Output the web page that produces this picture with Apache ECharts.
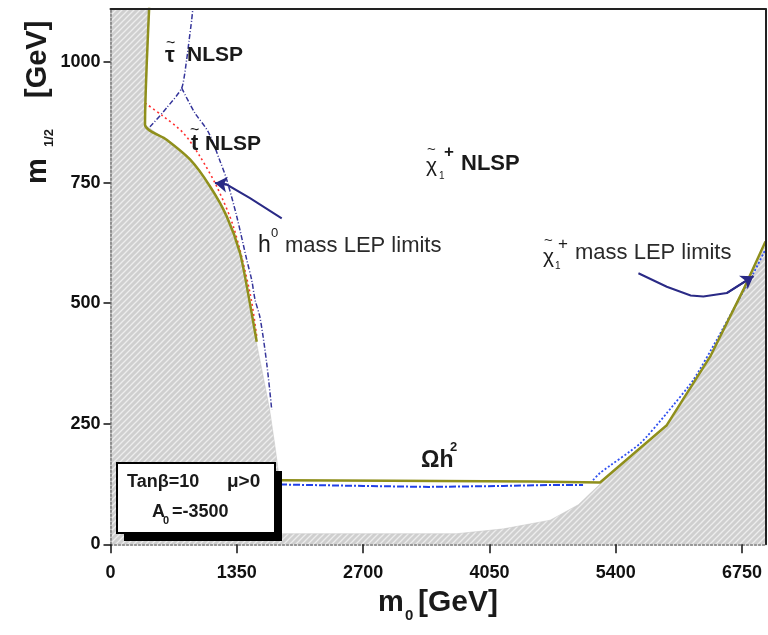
<!DOCTYPE html>
<html>
<head>
<meta charset="utf-8">
<script src="https://cdn.jsdelivr.net/npm/echarts@6/dist/echarts.min.js"></script>
<style>
html,body{margin:0;padding:0;background:#fff;}
#chart{width:768px;height:635px;}
</style>
</head>
<body>
<div id="chart"></div>
<script>
// ---- data (m0 [GeV], m1/2 [GeV]) ----
var xTicks = [0, 1350, 2700, 4050, 5400, 6750];
var yTicks = [0, 250, 500, 750, 1000];

var excludedRegion = [[0,0],[0,1120],[415,1120],[369,870],[600,837],[850,795],[1064,738],[1242,676],[1384,600],[1470,517],[1563,415],[1620,360],[1700,280],[1760,200],[1795,150],[1815,22],[3700,22],[4200,32],[4699,50],[5000,82],[5232,125],[5600,185],[5945,242],[6408,385],[6764,524],[7000,620],[7000,0]];

var omegaLeft = [[415,1120],[369,870],[600,839],[850,798],[1064,742],[1242,680],[1384,604],[1470,521],[1563,420]];
var omegaRight = [[1812,133],[3000,132],[4500,130],[5232,128],[5945,247],[6408,389],[6764,528],[7000,628]];

var higgsLimit = [[369,915],[547,890],[778,853],[957,804],[1135,742],[1313,659],[1491,521],[1563,431]];

var nlspTop = [[885,1120],[868,1088],[840,1045],[814,1005],[761,946],[600,905],[422,866],[369,862]];
var nlspRight = [[761,946],[900,895],[1045,855],[1170,795],[1242,756],[1349,680],[1456,590],[1509,548],[1545,507],[1598,470],[1669,376],[1723,279]];

var charginoFlat = [[1812,124],[2700,121],[3400,119],[4200,121],[4700,123],[5050,123]];
var charginoRise = [[5157,133],[5232,148],[5660,209],[5945,272],[6229,341],[6479,424],[6693,500],[6871,562],[7014,617]];

var arrowHiggs = [[1830,676],[1491,718],[1242,746],[1117,749]];
var arrowChargino = [[5642,562],[5945,534],[6200,516],[6336,514],[6586,521],[6871,556]];

// ---- hatch pattern ----
function makeHatch(){
  var s = 6, c = document.createElement('canvas');
  c.width = s; c.height = s;
  var g = c.getContext('2d');
  g.fillStyle = '#cfcfcf'; g.fillRect(0,0,s,s);
  g.strokeStyle = '#ededed'; g.lineWidth = 1.3;
  g.beginPath();
  g.moveTo(0,s); g.lineTo(s,0);
  g.moveTo(-s/2,s/2); g.lineTo(s/2,-s/2);
  g.moveTo(s/2,s+s/2); g.lineTo(s+s/2,s/2);
  g.stroke();
  return c;
}
var hatch = {image: makeHatch(), repeat: 'repeat'};

var FONT = 'Liberation Sans, Arial, sans-serif';
var chart = echarts.init(document.getElementById('chart'), null, {renderer:'canvas'});

function txt(x, y, s, size, bold, extra){
  var o = {type:'text', x:x, y:y, z:100, style:{text:s, fontSize:size, fontWeight: bold ? 'bold':'normal', fontFamily:FONT, fill:'#1a1a1a', textAlign:'left', textVerticalAlign:'middle'}};
  if (extra) for (var k in extra) o.style[k] = extra[k];
  return o;
}

var graphics = [
  // tau NLSP
  txt(165,56,'τ',22,true), txt(166,44,'~',16,false),
  txt(187,55,'NLSP',21,true),
  // stop NLSP
  txt(191,144,'t',22,true), txt(190,131,'~',16,false),
  txt(205,144,'NLSP',21,true),
  // chargino NLSP
  txt(426,166,'χ',21,false), txt(427,150,'~',15,false), txt(439,176,'1',10,false), txt(444,152,'+',17,true),
  txt(461,164,'NLSP',22,true),
  // h0 label
  txt(258,246,'h',23,false), txt(271,233,'0',13,false), txt(285,246,'mass LEP limits',22,false, {fill:'#2a2a2a'}),
  // chargino label
  txt(543,257,'χ',21,false), txt(544,241,'~',15,false), txt(555,266,'1',10,false), txt(558,244,'+',17,false),
  txt(575,253,'mass LEP limits',22,false, {fill:'#2a2a2a'}),
  // Omega h^2
  txt(421,461,'Ωh',23,true), txt(450,447,'2',13,true),
  // box
  {type:'rect', z:90, shape:{x:124,y:471,width:158,height:70}, style:{fill:'#000'}},
  {type:'rect', z:91, shape:{x:117,y:463,width:158,height:70}, style:{fill:'#fff', stroke:'#000', lineWidth:2}},
  txt(127,482,'Tanβ=10',18,true), txt(227,482,'μ>0',19,true),
  txt(152,512,'A',18,true), txt(163,521,'0',11,true), txt(172,512,'=-3500',18,true),
  // x title
  txt(378,603,'m',29,true), txt(405,616,'0',15,true), txt(418,603,'[GeV]',30,true),
  // y title (rotated)
  {type:'group', x:38, y:184, rotation:Math.PI/2, z:100, children:[
    txt(0,0,'m',29,true), txt(37,11,'1/2',13,true), txt(86,0,'[GeV]',29,true)
  ]}
];

function lineSeries(data, color, width, type, smooth, z){
  return {type:'line', data:data, showSymbol:false, symbol:'none', smooth:smooth, z:z||5,
    lineStyle:{color:color, width:width, type:type}, silent:true, animation:false, clip:true};
}

var option = {
  animation:false,
  backgroundColor:'#fff',
  grid:{left:110.5, right:2.5, top:9, bottom:90.7, containLabel:false},
  xAxis:[{
    type:'value', min:0, max:7000, interval:1350, position:'bottom', z:20,
    axisLine:{onZero:false, lineStyle:{color:'#777', width:1.5, type:[2,2]}},
    axisTick:{length:9, lineStyle:{color:'#111', width:1.5}},
    axisLabel:{showMaxLabel:false, margin:20, fontSize:18, fontWeight:'bold', fontFamily:FONT, color:'#111',
      formatter:function(v){ return xTicks.indexOf(v) >= 0 ? String(v) : ''; }},
    splitLine:{show:false}
  },{
    type:'value', min:0, max:7000, position:'top', z:20,
    axisLine:{onZero:false, lineStyle:{color:'#222', width:2}},
    axisTick:{show:false}, axisLabel:{show:false}, splitLine:{show:false}
  }],
  yAxis:[{
    type:'value', min:0, max:1110, interval:250, position:'left', z:20,
    axisLine:{onZero:false, lineStyle:{color:'#777', width:1.5, type:[2,2]}},
    axisTick:{length:7, lineStyle:{color:'#111', width:1.5}},
    axisLabel:{showMaxLabel:false, margin:10, fontSize:18, fontWeight:'bold', fontFamily:FONT, color:'#111',
      formatter:function(v){ return yTicks.indexOf(v) >= 0 ? String(v) : ''; }},
    splitLine:{show:false}
  },{
    type:'value', min:0, max:1110, position:'right', z:20,
    axisLine:{onZero:false, lineStyle:{color:'#222', width:2}},
    axisTick:{show:false}, axisLabel:{show:false}, splitLine:{show:false}
  }],
  series:[
    {type:'custom', coordinateSystem:'cartesian2d', data:[[0,0]], z:1, silent:true, clip:true,
      renderItem:function(params, api){
        var pts = excludedRegion.map(function(p){ return api.coord(p); });
        return {type:'polygon', shape:{points:pts}, style:{fill:hatch, stroke:'#c4c4c4', lineWidth:0.5}};
      }},
    lineSeries(higgsLimit, '#ff3030', 1.6, [2,3], 0.3, 6),
    lineSeries(nlspTop, '#34349a', 1.5, [5,2,1,2], 0.2, 6),
    lineSeries(nlspRight, '#34349a', 1.5, [5,2,1,2], 0.3, 6),
    lineSeries(charginoFlat, '#2040e8', 2, [7,2,2,2], 0, 6),
    lineSeries(charginoRise, '#3050f0', 1.8, [2,2], 0.2, 6),
    lineSeries(omegaLeft, '#8f8f1c', 2.5, 'solid', 0.25, 7),
    lineSeries(omegaRight, '#8f8f1c', 2.5, 'solid', 0, 7),
    {type:'lines', coordinateSystem:'cartesian2d', polyline:true, z:8, silent:true,
      lineStyle:{color:'#2a2a86', width:2, opacity:1, curveness:0},
      data:[{coords:arrowHiggs},{coords:arrowChargino}]},
    {type:'lines', coordinateSystem:'cartesian2d', z:9, silent:true,
      symbol:['none','arrow'], symbolSize:12,
      lineStyle:{color:'#2a2a86', width:2, opacity:1, curveness:0},
      data:[{coords:arrowHiggs.slice(-2)},{coords:arrowChargino.slice(-2)}]}
  ],
  graphic: graphics
};
chart.setOption(option);
</script>
</body>
</html>
